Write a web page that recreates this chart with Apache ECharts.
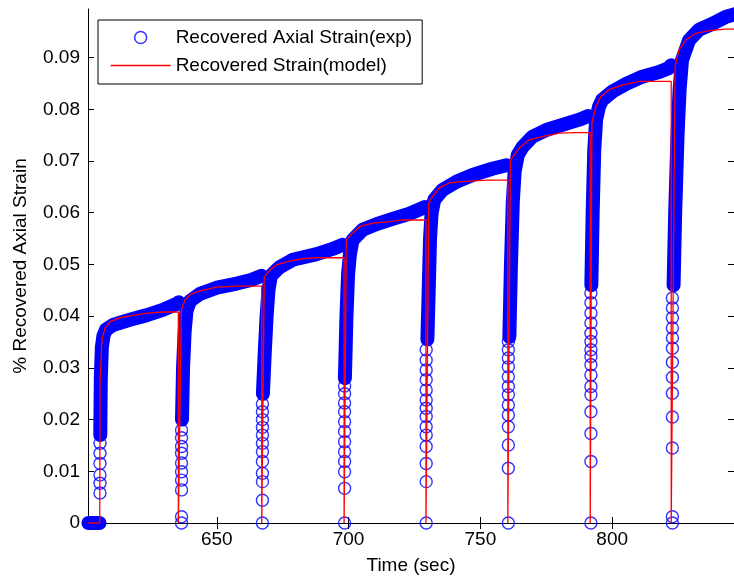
<!DOCTYPE html>
<html>
<head>
<meta charset="utf-8">
<script src="https://cdn.jsdelivr.net/npm/echarts@6/dist/echarts.min.js"></script>
<style>
html,body{margin:0;padding:0;background:#fff;}
#chart{width:734px;height:581px;}
</style>
</head>
<body>
<div id="chart"></div>
<script>
// ---------- axes ----------
const xTicks = [650, 700, 750, 800];
const yTicks = [0, 0.01, 0.02, 0.03, 0.04, 0.05, 0.06, 0.07, 0.08, 0.09];
const xMin = 601.14, xMax = 846.22;
const yMin = 0, yMax = 0.0994;
const xTitle = 'Time (sec)';
const yTitle = '% Recovered Axial Strain';
const expName = 'Recovered Axial Strain(exp)';
const modelName = 'Recovered Strain(model)';

// ---------- experimental data ----------
// time at which each recovery starts (column of sparse circles)
const expRiseTimes = [605.69, 636.63, 667.32, 698.49, 729.44, 760.61, 791.94, 822.85];
// sparse circles during the fast jump of each cycle
const riseC1 = [0.0058, 0.0077, 0.0093, 0.0115, 0.0135, 0.0154];
const riseC2 = [0, 0.0012, 0.0064, 0.0083, 0.0099, 0.0116, 0.0135, 0.0148, 0.0165, 0.018];
const riseC3 = [0, 0.0044, 0.0080, 0.0096, 0.0119, 0.0138, 0.0154, 0.0170, 0.0185, 0.020, 0.0215, 0.023];
const riseC4 = [0, 0.0067, 0.0099, 0.0119, 0.0138, 0.0157, 0.0177, 0.0196, 0.0215, 0.0232, 0.0250, 0.0265];
const riseC5 = [0, 0.0080, 0.0115, 0.0148, 0.0170, 0.0186, 0.0206, 0.0222, 0.0238, 0.0257, 0.0277, 0.0296, 0.0315, 0.0335];
const riseC6 = [0, 0.0106, 0.0151, 0.0186, 0.0209, 0.0228, 0.0248, 0.0264, 0.0283, 0.0302, 0.0319, 0.0335, 0.0351];
const riseC7 = [0, 0.0119, 0.0173, 0.0215, 0.0248, 0.0264, 0.0286, 0.0306, 0.0322, 0.0335, 0.0351, 0.0367, 0.0387, 0.0406, 0.0426, 0.0445];
const riseC8 = [0, 0.0012, 0.0145, 0.0205, 0.0251, 0.0282, 0.0311, 0.0338, 0.0358, 0.0377, 0.0397, 0.0416, 0.0435];

// densely sampled part (dense circles merge into a band): [time, strain]
const zeroBand = [[601.3, 0], [605.5, 0]];
const bandC1 = [[605.8,0.017],[606.0,0.028],[606.4,0.034],[607.0,0.0362],[608.0,0.0374],[610.6,0.0383],[617.0,0.0393],[623.5,0.0402],[629.5,0.0412],[634.9,0.0424],[635.6,0.0427]];
const bandC2 = [[636.8,0.020],[637.2,0.030],[637.8,0.037],[638.5,0.041],[639.8,0.0429],[643.6,0.0443],[650.0,0.0455],[657.6,0.0463],[663.0,0.0470],[667.0,0.0478]];
const bandC3 = [[667.5,0.025],[668.2,0.033],[668.9,0.040],[669.6,0.045],[670.5,0.0478],[673.9,0.0495],[678.8,0.0509],[687.9,0.0520],[693.9,0.0530],[697.8,0.0538]];
const bandC4 = [[698.6,0.028],[699.2,0.040],[699.8,0.048],[700.5,0.052],[701.5,0.0547],[705.3,0.0567],[710.6,0.0578],[716.7,0.0588],[723.1,0.0598],[729.0,0.0611]];
const bandC5 = [[729.9,0.0355],[730.4,0.045],[730.9,0.055],[731.5,0.060],[732.5,0.0625],[735.6,0.0644],[740.9,0.0660],[747.0,0.0673],[754.5,0.0685],[759.9,0.0692]];
const bandC6 = [[761.0,0.036],[761.6,0.050],[762.3,0.062],[763.0,0.068],[764.2,0.0712],[766.0,0.0727],[769.7,0.0747],[775.0,0.0760],[781.1,0.0770],[787.5,0.0780],[790.9,0.0787]];
const bandC7 = [[792.1,0.046],[792.6,0.060],[793.2,0.072],[793.9,0.078],[795.0,0.0805],[796.2,0.0818],[800.0,0.0834],[805.3,0.0849],[811.4,0.0863],[817.8,0.0872],[821.6,0.0880],[822.3,0.0885]];
const bandC8 = [[823.3,0.046],[823.9,0.060],[824.8,0.075],[825.6,0.084],[826.5,0.0895],[829.2,0.0934],[833.0,0.0954],[837.9,0.0965],[843.2,0.0979],[848.0,0.0986]];

// ---------- model ----------
const modelC1 = [[601.14,0],[605.6,0],[605.69,0.027],[606.44,0.0354],[607.58,0.0377],[609.47,0.0389],[613.26,0.0397],[623.49,0.0406],[630.0,0.0408],[635.42,0.0408],[635.42,0]];
const modelC2 = [[636.56,0.0412],[637.88,0.0431],[639.78,0.0441],[643.56,0.0449],[649.89,0.0456],[657.47,0.0458],[667.05,0.0458],[667.05,0]];
const modelC3 = [[668.0,0.0476],[670.08,0.0489],[672.62,0.0499],[676.41,0.0505],[682.58,0.0511],[687.77,0.0513],[698.30,0.0513],[698.30,0]];
const modelC4 = [[699.13,0.0547],[701.52,0.0561],[704.17,0.0573],[709.09,0.0580],[715.53,0.0583],[720.46,0.0586],[729.36,0.0586],[729.36,0]];
const modelC5 = [[730.42,0.0619],[731.82,0.0631],[734.47,0.0648],[738.26,0.0658],[743.19,0.0660],[752.28,0.0663],[760.42,0.0663],[760.42,0]];
const modelC6 = [[761.37,0.0702],[762.88,0.0712],[764.78,0.0725],[768.56,0.0741],[773.49,0.0747],[779.93,0.0754],[785.61,0.0755],[791.67,0.0755],[791.67,0]];
const modelC7 = [[792.31,0.0774],[793.83,0.0805],[795.72,0.0825],[798.87,0.0838],[803.79,0.0847],[810.23,0.0854],[822.40,0.0854],[822.40,0]];
const modelC8 = [[823.87,0.0883],[825.38,0.0915],[827.92,0.0934],[831.71,0.0947],[836.75,0.0952],[843.07,0.0955],[850.0,0.0955]];

// ---------- build ----------
const BLUE = '#0000ff', RED = '#ff0000';
const FONT = 'Liberation Sans, Arial, Helvetica, sans-serif';
const FS = 19;

const riseLists = [riseC1, riseC2, riseC3, riseC4, riseC5, riseC6, riseC7, riseC8];
const risePoints = [];
riseLists.forEach((vals, i) => vals.forEach(v => risePoints.push([expRiseTimes[i], v])));

const bands = [zeroBand, bandC1, bandC2, bandC3, bandC4, bandC5, bandC6, bandC7, bandC8];
const modelPath = [].concat(modelC1, modelC2, modelC3, modelC4, modelC5, modelC6, modelC7, modelC8);

const series = [{
  name: expName,
  type: 'scatter',
  data: risePoints,
  symbol: 'circle',
  symbolSize: 12,
  clip: false,
  itemStyle: { color: 'rgba(0,0,0,0)', borderColor: BLUE, borderWidth: 1.4 },
  emphasis: { disabled: true },
  z: 2
}];
bands.forEach((b, i) => {
  series.push({
    name: expName,
    type: 'line',
    data: b,
    symbol: 'none',
    clip: i === bands.length - 1,
    lineStyle: { color: BLUE, width: 14, cap: 'round', join: 'round' },
    itemStyle: { color: BLUE },
    emphasis: { disabled: true },
    z: 2
  });
});
series.push({
  name: modelName,
  type: 'line',
  data: modelPath,
  symbol: 'none',
  clip: true,
  lineStyle: { color: RED, width: 1.3 },
  itemStyle: { color: RED },
  emphasis: { disabled: true },
  z: 3
});

const axisLineStyle = { lineStyle: { color: '#000', width: 1 } };
const labelStyle = { color: '#000', fontSize: FS, fontFamily: FONT };

const chart = echarts.init(document.getElementById('chart'), null, { renderer: 'canvas' });
chart.setOption({
  animation: false,
  backgroundColor: '#fff',
  grid: { left: 88, top: 9, width: 647, height: 514, containLabel: false },
  legend: {
    orient: 'vertical',
    left: 98, top: 20,
    padding: [8, 10, 9, 12],
    itemWidth: 60, itemHeight: 12, itemGap: 9, itemTextGap: 7,
    backgroundColor: '#fff', borderColor: '#000', borderWidth: 1, borderRadius: 0,
    selectedMode: false,
    textStyle: { color: '#000', fontSize: FS, fontFamily: FONT },
    data: [
      { name: expName, icon: 'circle', itemStyle: { color: 'rgba(0,0,0,0)', borderColor: BLUE, borderWidth: 1.5 } },
      { name: modelName, itemStyle: { opacity: 0 }, lineStyle: { color: RED, width: 1.3 } }
    ]
  },
  xAxis: [{
    type: 'value', position: 'bottom', min: xMin, max: xMax,
    name: xTitle, nameLocation: 'middle', nameGap: 33,
    nameTextStyle: labelStyle,
    axisLine: axisLineStyle,
    axisTick: { show: true, inside: true, length: 6, customValues: xTicks, lineStyle: { color: '#000' } },
    axisLabel: { show: true, margin: 7, customValues: xTicks, formatter: v => String(v), ...labelStyle },
    splitLine: { show: false }
  }, {
    type: 'value', position: 'top', min: xMin, max: xMax,
    axisLine: axisLineStyle,
    axisTick: { show: true, inside: true, length: 6, customValues: xTicks, lineStyle: { color: '#000' } },
    axisLabel: { show: false },
    splitLine: { show: false }
  }],
  yAxis: [{
    type: 'value', position: 'left', min: yMin, max: yMax,
    name: yTitle, nameLocation: 'middle', nameGap: 58, nameRotate: 90,
    nameTextStyle: labelStyle,
    axisLine: axisLineStyle,
    axisTick: { show: true, inside: true, length: 6, customValues: yTicks, lineStyle: { color: '#000' } },
    axisLabel: { show: true, margin: 8, customValues: yTicks, formatter: v => (v === 0 ? '0' : v.toFixed(2)), ...labelStyle },
    splitLine: { show: false }
  }, {
    type: 'value', position: 'right', min: yMin, max: yMax,
    axisLine: axisLineStyle,
    axisTick: { show: true, inside: true, length: 6, customValues: yTicks, lineStyle: { color: '#000' } },
    axisLabel: { show: false },
    splitLine: { show: false }
  }],
  series: series
});
</script>
</body>
</html>
